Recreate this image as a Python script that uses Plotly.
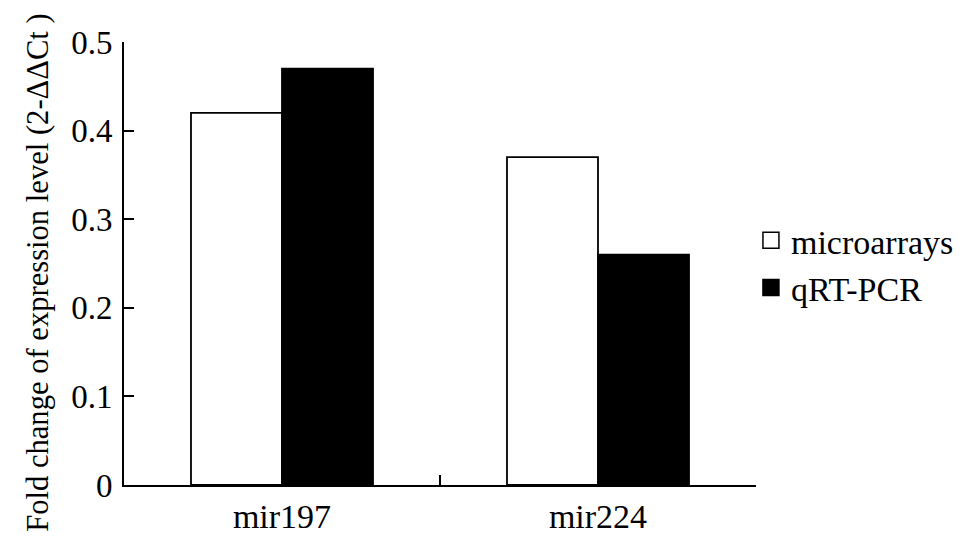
import plotly.graph_objects as go

categories = ["mir197", "mir224"]
microarrays = [0.42, 0.37]
qrt_pcr = [0.47, 0.26]
y_ticks = [0, 0.1, 0.2, 0.3, 0.4, 0.5]
y_tick_labels = ["0", "0.1", "0.2", "0.3", "0.4", "0.5"]
y_title = "Fold change of expression level (2-ΔΔCt )"

FONT = "Liberation Serif"

fig = go.Figure()
fig.add_trace(go.Bar(
    x=categories, y=microarrays, name="microarrays", showlegend=False,
    marker=dict(color="white", line=dict(color="black", width=1.8)),
))
fig.add_trace(go.Bar(
    x=categories, y=qrt_pcr, name="qRT-PCR", showlegend=False,
    marker=dict(color="black", line=dict(color="black", width=1.8)),
))
# bigger square swatches for the legend
fig.add_trace(go.Scatter(
    x=[None], y=[None], mode="markers", name="microarrays",
    marker=dict(symbol="square", size=21, color="white", line=dict(color="black", width=1.5)),
))
fig.add_trace(go.Scatter(
    x=[None], y=[None], mode="markers", name="qRT-PCR",
    marker=dict(symbol="square", size=21, color="black", line=dict(color="black", width=1.5)),
))

# y title as an annotation so it can sit a little below the axis centre
fig.add_annotation(
    text=y_title, textangle=-90, showarrow=False,
    xref="paper", yref="paper", x=-0.136, y=0.479,
    xanchor="center", yanchor="middle",
    font=dict(size=30.6),
)

fig.update_layout(
    width=969, height=548,
    margin=dict(l=116, r=221, t=34, b=71),
    paper_bgcolor="white", plot_bgcolor="white",
    barmode="group", bargap=0.424, bargroupgap=0,
    font=dict(family=FONT, color="black", size=30),
    legend=dict(x=0.992, y=0.617, xanchor="left", yanchor="top",
                font=dict(size=34), itemwidth=30, tracegroupgap=0,
                itemsizing="trace"),
    xaxis=dict(
        showline=True, linecolor="black", linewidth=2,
        ticks="inside", ticklen=10, tickcolor="black", tickwidth=2,
        tickson="boundaries", tickfont=dict(size=34),
        showgrid=False,
    ),
    yaxis=dict(
        range=[0, 0.5], tickvals=y_ticks, ticktext=y_tick_labels,
        showline=True, linecolor="black", linewidth=2,
        ticks="inside", ticklen=10, tickcolor="black", tickwidth=2,
        tickfont=dict(size=33), ticklabelstandoff=3,
        showgrid=False, zeroline=False,
    ),
)

fig.write_html("out.html")
